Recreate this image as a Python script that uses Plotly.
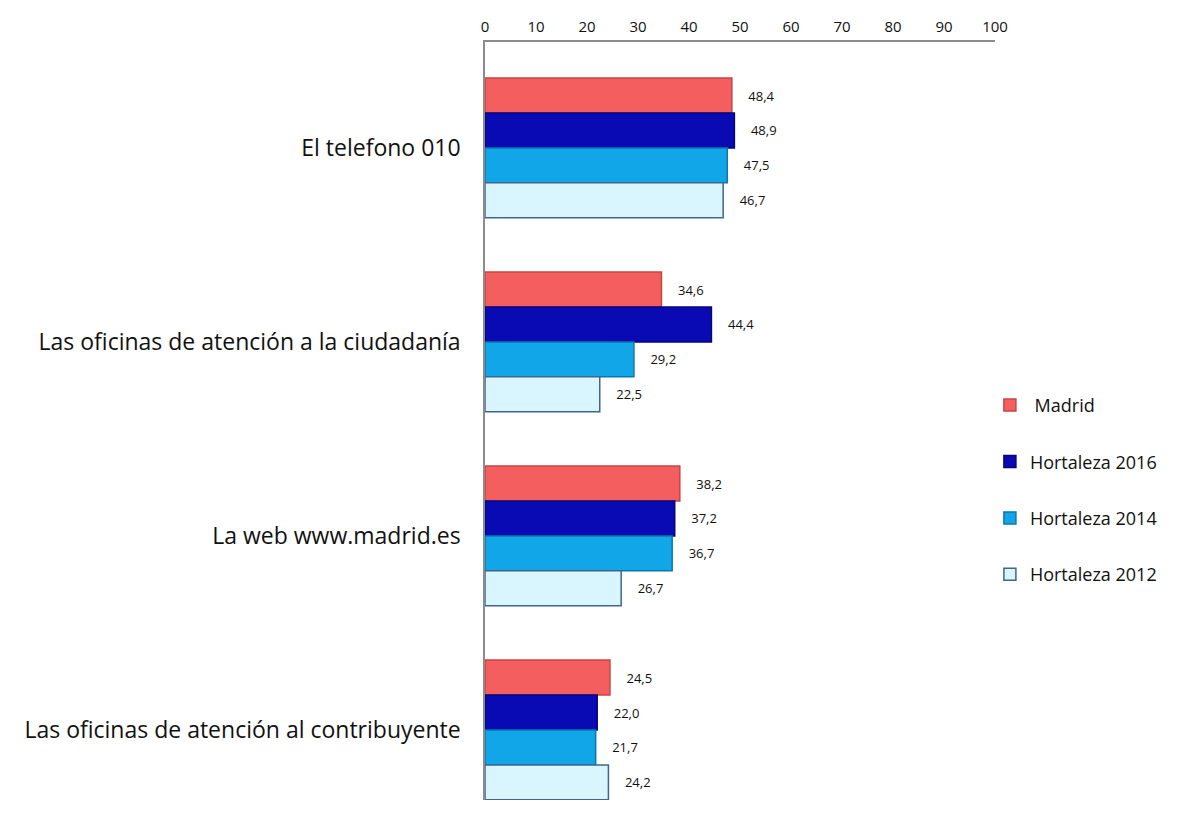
import plotly.graph_objects as go

categories = ["El telefono 010", "Las oficinas de atención a la ciudadanía",
              "La web www.madrid.es", "Las oficinas de atención al contribuyente"]
series_names = [" Madrid", "Hortaleza 2016", "Hortaleza 2014", "Hortaleza 2012"]
madrid = [48.4, 34.6, 38.2, 24.5]
hort2016 = [48.9, 44.4, 37.2, 22.0]
hort2014 = [47.5, 29.2, 36.7, 21.7]
hort2012 = [46.7, 22.5, 26.7, 24.2]
x_ticks = [0, 10, 20, 30, 40, 50, 60, 70, 80, 90, 100]

all_values = [madrid, hort2016, hort2014, hort2012]
fills = ["#F45E5E", "#0A0AB4", "#11A6E8", "#D9F5FD"]
lines = ["#C84444", "#06067A", "#0A78B0", "#3F6590"]

ypos = list(range(len(categories)))
fig = go.Figure()
for i, (name, vals) in enumerate(zip(series_names, all_values)):
    fig.add_trace(go.Bar(
        y=ypos, x=vals, orientation="h", name=name,
        marker=dict(color=fills[i], line=dict(color=lines[i], width=1.5)),
        legendgroup=name,
        text=[f"{v:.1f}".replace(".", ",") for v in vals],
        textposition="outside",
        texttemplate="    %{text}",
        textfont=dict(family="Open Sans", size=13, color="#111111"),
        cliponaxis=False,
    ))

fig.update_layout(
    width=1178, height=829,
    margin=dict(l=477, r=191, t=34, b=37, autoexpand=False),
    paper_bgcolor="white", plot_bgcolor="white",
    barmode="group", bargap=0.28, bargroupgap=0,
    font=dict(family="Open Sans", color="#111111"),
    xaxis=dict(side="top", range=[0, 100], tickvals=x_ticks, showgrid=False,
               zeroline=False, showline=True, linecolor="#8C8C8C", linewidth=1.5,
               ticks="", tickfont=dict(size=15), ticklabelstandoff=2, automargin=False),
    yaxis=dict(range=[3.361, -0.546], tickvals=ypos, ticktext=categories,
               showgrid=False, zeroline=False, showline=True, linecolor="#8C8C8C",
               linewidth=1.5, ticks="", tickfont=dict(size=23), ticklabelstandoff=18,
               automargin=False),
    legend=dict(x=0.99, y=0.545, xanchor="left", yanchor="top",
                font=dict(size=18), tracegroupgap=30, traceorder="grouped",
                itemwidth=30),
    showlegend=True,
)

fig.write_html("out.html")
